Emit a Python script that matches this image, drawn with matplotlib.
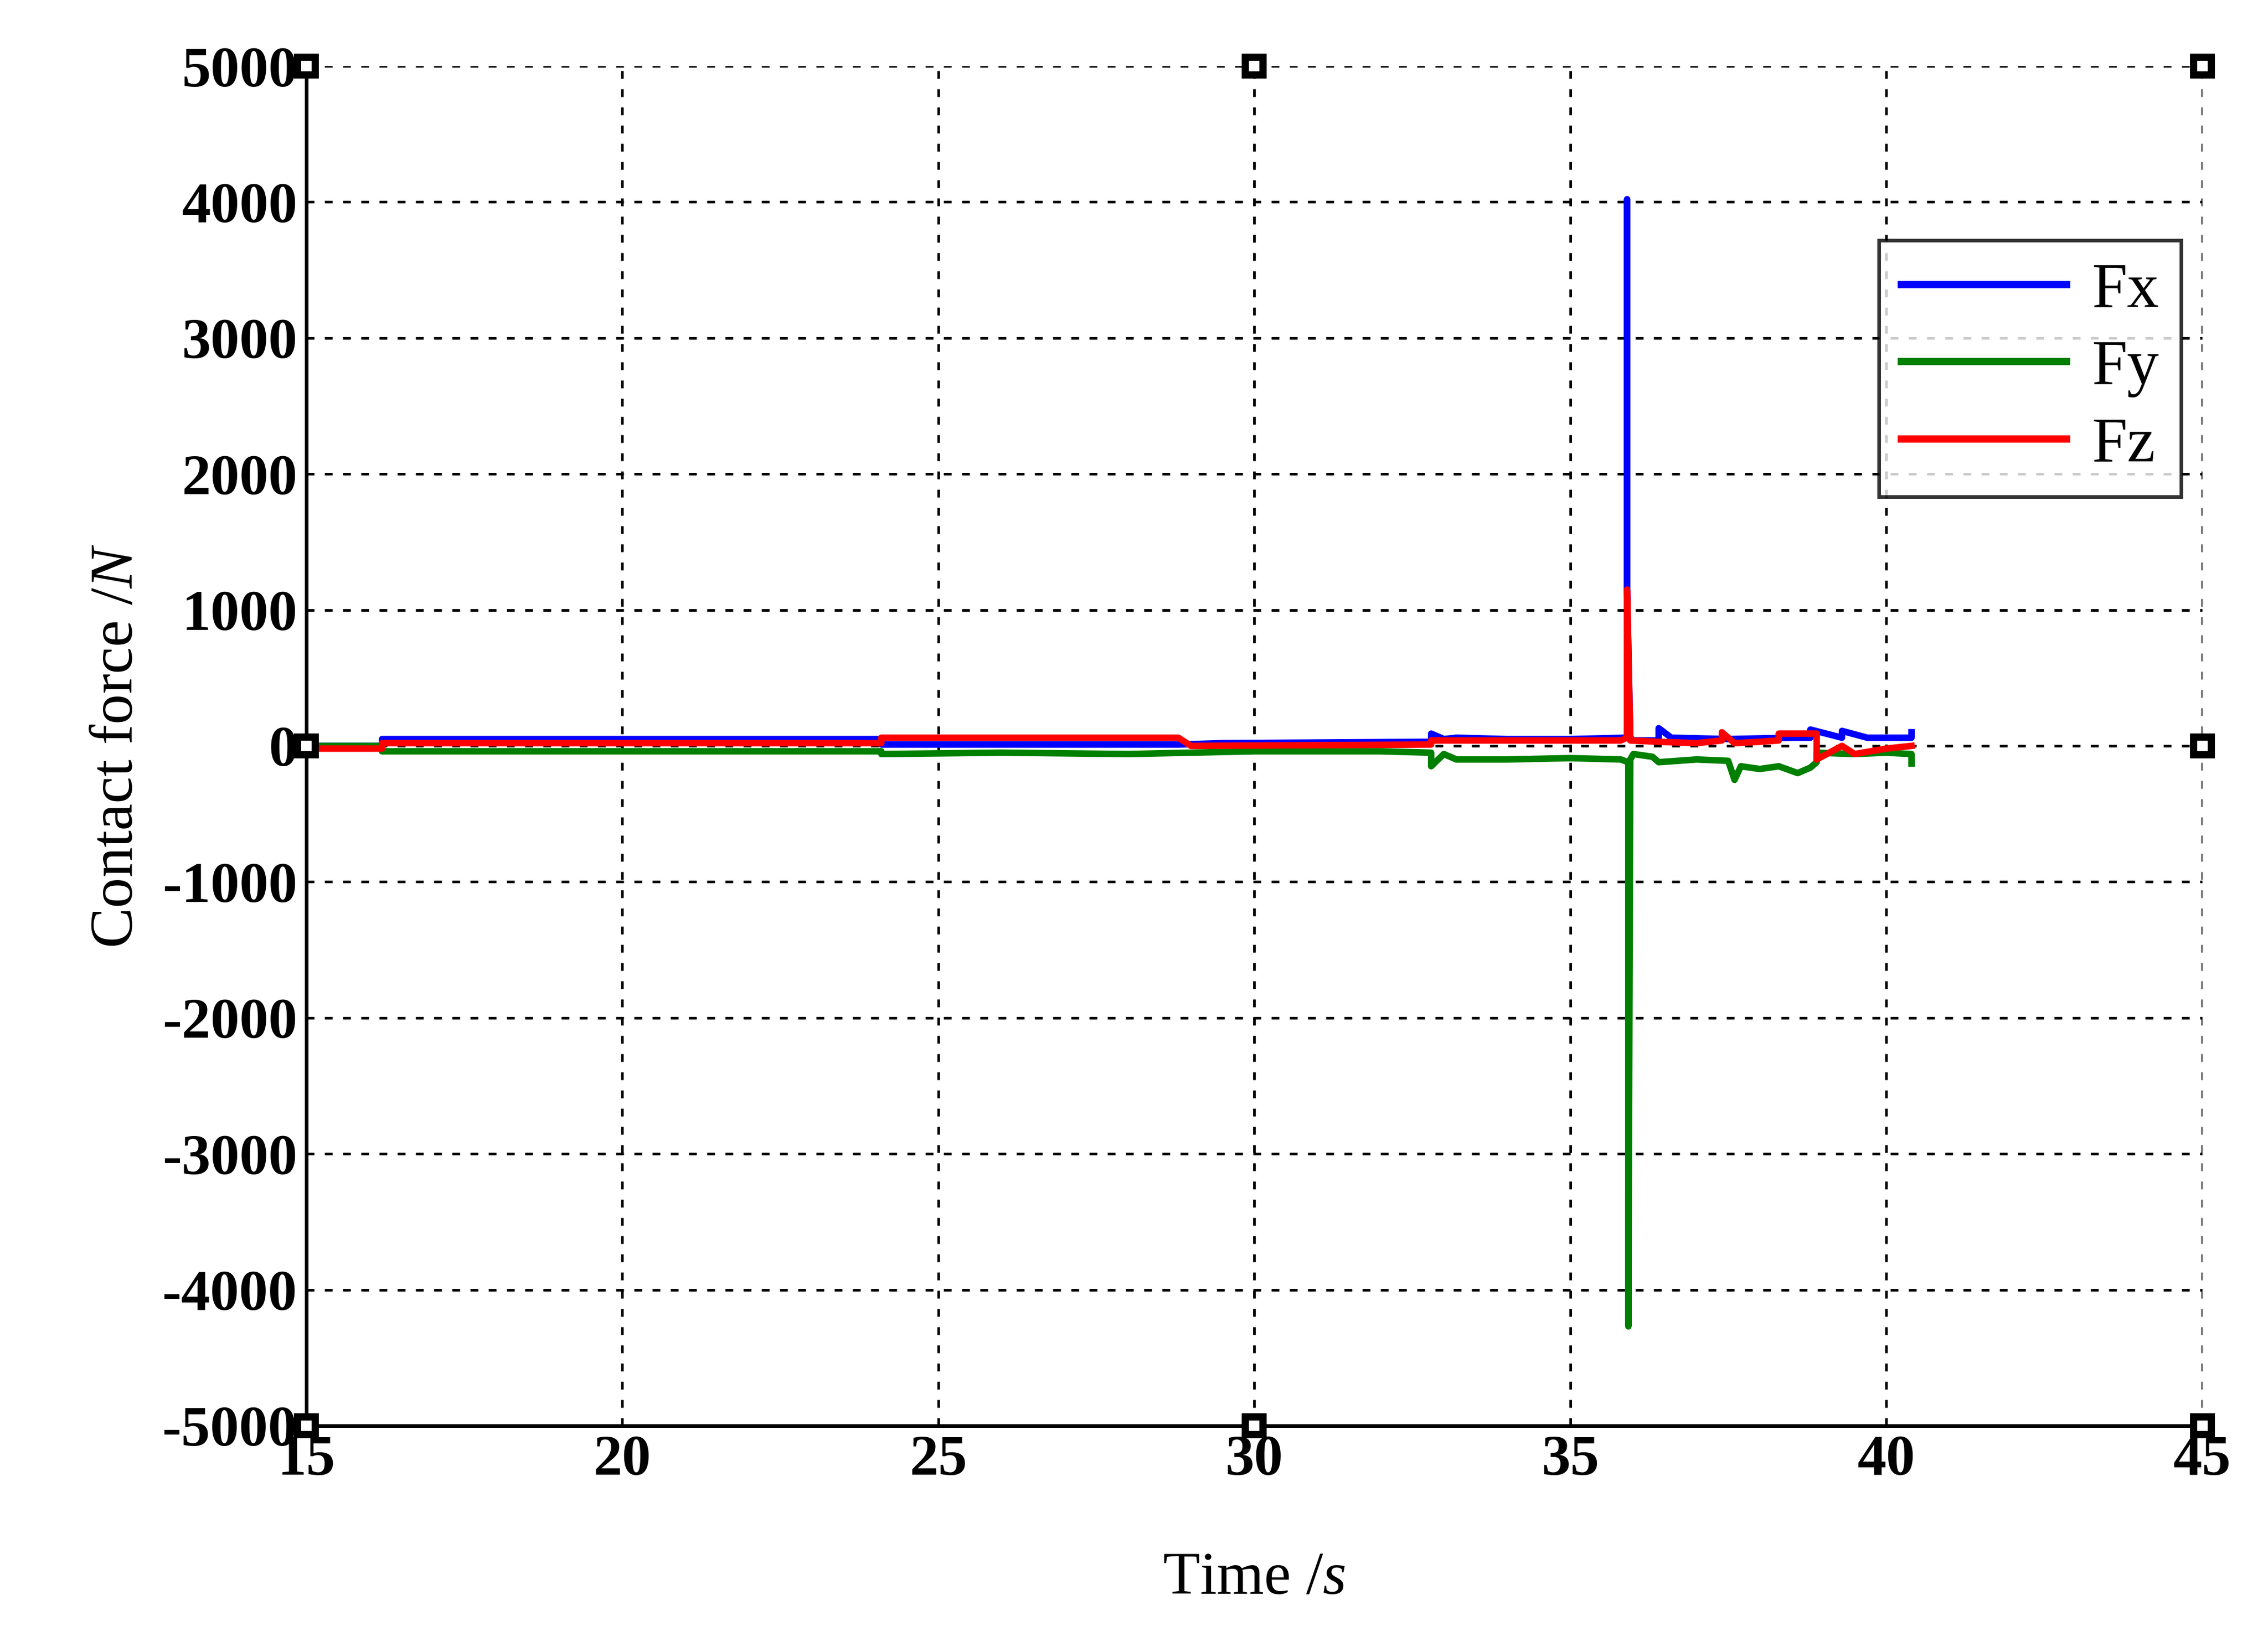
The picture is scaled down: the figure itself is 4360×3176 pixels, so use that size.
import matplotlib
matplotlib.use("Agg")
import matplotlib.pyplot as plt

plt.rcParams["font.family"] = ["Liberation Serif", "DejaVu Serif"]
plt.rcParams["axes.unicode_minus"] = False
plt.rcParams["mathtext.fontset"] = "custom"
plt.rcParams["mathtext.rm"] = "Liberation Serif"
plt.rcParams["mathtext.it"] = "Liberation Serif:italic"

# Values (time in s, force in N)
t_fx = [15.0, 16.2, 16.2, 24.1, 24.1, 28.8, 29.5, 32.8, 32.8, 33.0, 33.2, 34.0, 35.0,
        35.9, 35.9, 35.9, 35.95, 36.0, 36.4, 36.4, 36.6, 37.5, 38.5, 38.8, 38.8,
        39.3, 39.3, 39.7, 40.4, 40.4]
fx = [0, 0, 50, 50, 10, 10, 20, 30, 90, 50, 60, 50, 50,
      60, 4020, 1150, 60, 40, 40, 130, 60, 50, 60, 60, 120,
      60, 110, 60, 60, 100]

t_fy = [15.0, 16.2, 16.2, 24.1, 24.1, 26.0, 28.0, 30.0, 32.0, 32.8, 32.8, 33.0, 33.2,
        34.0, 35.0, 35.8, 35.92, 35.92, 35.95, 36.0, 36.3, 36.4, 37.0, 37.5, 37.6, 37.7,
        38.0, 38.3, 38.6, 38.8, 38.9, 38.9, 39.5, 40.0, 40.4, 40.4]
fy = [0, 0, -40, -40, -60, -50, -60, -40, -40, -50, -150, -60, -100,
      -100, -90, -100, -120, -4270, -100, -60, -80, -120, -100, -110, -250, -150,
      -170, -150, -200, -160, -120, -50, -60, -50, -60, -130]

t_fz = [15.0, 16.2, 16.2, 24.1, 24.1, 28.8, 29.0, 32.8, 32.8, 35.8, 35.9, 35.9,
        35.95, 36.4, 37.0, 37.4, 37.4, 37.6, 38.0, 38.3, 38.3, 38.9, 38.9, 39.3,
        39.5, 40.0, 40.4]
fz = [-20, -20, 20, 20, 60, 60, 0, 10, 40, 40, 60, 1150,
      40, 30, 20, 40, 100, 20, 30, 40, 90, 90, -100, 0,
      -60, -20, 0]

markers_t = [15, 30, 45, 15, 45, 15, 30, 45]
markers_f = [5000, 5000, 5000, 0, 0, -5000, -5000, -5000]

fig = plt.figure(figsize=(21.8, 15.88), dpi=200)
ax = fig.add_axes([0.135, 0.137, 0.836, 0.823])

ax.plot(t_fx, fx, color="#0000ff", linewidth=4.5, label="Fx")
ax.plot(t_fy, fy, color="#007f00", linewidth=4.5, label="Fy")
ax.plot(t_fz, fz, color="#ff0000", linewidth=4.5, label="Fz")
ax.plot(markers_t, markers_f, linestyle="none", marker="s", markersize=12,
        markerfacecolor="white", markeredgecolor="black", markeredgewidth=5,
        clip_on=False, zorder=5)

ax.set_xlim(15, 45)
ax.set_ylim(-5000, 5000)
ax.set_xticks(range(15, 46, 5))
ax.set_yticks(range(-5000, 5001, 1000))
ax.grid(True, color="black", linestyle=(0, (3, 4)), linewidth=1.8)
ax.tick_params(labelsize=40, direction="in", length=0, width=2, pad=6)
for lbl in ax.get_xticklabels() + ax.get_yticklabels():
    lbl.set_fontweight("bold")
for sp in ax.spines.values():
    sp.set_visible(False)
ax.spines["left"].set_visible(True)
ax.spines["bottom"].set_visible(True)
ax.spines["left"].set_linewidth(2.5)
ax.spines["bottom"].set_linewidth(2.5)

ax.set_xlabel("Time /$\\mathit{s}$", fontsize=42, labelpad=45)
ax.set_ylabel("Contact force /$\\mathit{N}$", fontsize=42, labelpad=12)

leg = ax.legend(loc="upper right", bbox_to_anchor=(0.989, 0.872), fontsize=44,
                handlelength=2.6, handletextpad=0.4, labelspacing=0.3,
                frameon=True, fancybox=False, borderpad=0.35, borderaxespad=0)
leg.get_frame().set_edgecolor("black")
leg.get_frame().set_linewidth(2.5)
for line in leg.get_lines():
    line.set_linewidth(5)

fig.savefig("out.png", dpi=200, facecolor="white")
